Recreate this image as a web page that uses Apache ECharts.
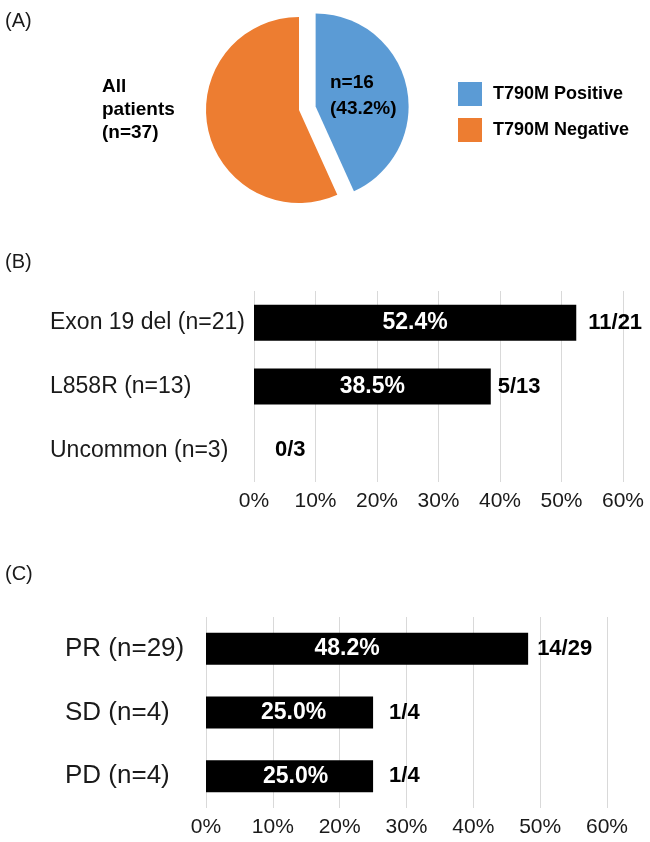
<!DOCTYPE html>
<html>
<head>
<meta charset="utf-8">
<script src="https://cdn.jsdelivr.net/npm/echarts@6/dist/echarts.min.js"></script>
<style>
  html, body { margin: 0; padding: 0; background: #ffffff; }
  #chart { width: 650px; height: 842px; }
</style>
</head>
<body>
<div id="chart"></div>
<script>
// ---------- Data ----------
const pieNames = ['T790M Positive', 'T790M Negative'];
const pieValues = [16, 21];
const pieTitle = 'All\npatients\n(n=37)';

const mutationCategories = ['Exon 19 del (n=21)', 'L858R (n=13)', 'Uncommon (n=3)'];
const mutationPercent = [52.4, 38.5, 0];
const mutationFractions = ['11/21', '5/13', '0/3'];

const responseCategories = ['PR (n=29)', 'SD (n=4)', 'PD (n=4)'];
const responsePercent = [48.2, 25.0, 25.0];
const responseFractions = ['14/29', '1/4', '1/4'];

// ---------- Layout / style ----------
const FONT = '"Liberation Sans", Arial, Helvetica, sans-serif';
const BLUE = '#5B9BD5';
const ORANGE = '#ED7D31';
const gapB = [12, 7, 21];
const gapC = [9, 16, 16];
const insideShiftB = [0, 0, 0];
const insideShiftC = [-20, 4, 6];

function valueAxis(gridIndex) {
  return {
    type: 'value', gridIndex, min: 0, max: 60, interval: 10,
    axisLine: { show: false }, axisTick: { show: false },
    splitLine: { show: true, lineStyle: { color: '#d9d9d9', width: 1 } },
    axisLabel: { formatter: '{value}%', color: '#1a1a1a', fontSize: 21, fontFamily: FONT, margin: 9 }
  };
}
function catAxis(gridIndex, cats, fontSize, margin) {
  return {
    type: 'category', gridIndex, data: cats, inverse: true,
    axisLine: { show: false }, axisTick: { show: false },
    axisLabel: { color: '#1a1a1a', fontSize, fontFamily: FONT, align: 'left', margin }
  };
}
function mainBar(idx, vals, shifts, width) {
  return {
    type: 'bar', xAxisIndex: idx, yAxisIndex: idx, barWidth: width,
    data: vals.map((v, i) => ({ value: v, label: { offset: [shifts[i], 0] } })),
    itemStyle: { color: '#000000' },
    label: {
      show: true, position: 'inside', color: '#ffffff', fontWeight: 'bold', fontSize: 23, fontFamily: FONT,
      formatter: p => (p.value > 0 ? p.value.toFixed(1) + '%' : '')
    },
    silent: true
  };
}
function fracBar(idx, vals, fracs, gaps, width) {
  return {
    type: 'bar', xAxisIndex: idx, yAxisIndex: idx, barWidth: width, barGap: '-100%',
    data: vals.map((v, i) => ({ value: v, label: { distance: gaps[i] } })),
    itemStyle: { color: 'rgba(0,0,0,0)' },
    label: {
      show: true, position: 'right', color: '#000000', fontWeight: 'bold', fontSize: 22, fontFamily: FONT,
      formatter: p => fracs[p.dataIndex]
    },
    silent: true, z: 3
  };
}

const pieTotal = pieValues.reduce((a, b) => a + b, 0);

const chart = echarts.init(document.getElementById('chart'), null, { renderer: 'canvas' });
chart.setOption({
  animation: false,
  backgroundColor: '#ffffff',
  title: [
    { text: '(A)', left: 5, top: 11, padding: 0, textStyle: { fontSize: 20, fontWeight: 'normal', color: '#1a1a1a', fontFamily: FONT } },
    { text: '(B)', left: 5, top: 252, padding: 0, textStyle: { fontSize: 20, fontWeight: 'normal', color: '#1a1a1a', fontFamily: FONT } },
    { text: '(C)', left: 5, top: 564, padding: 0, textStyle: { fontSize: 20, fontWeight: 'normal', color: '#1a1a1a', fontFamily: FONT } },
    { text: pieTitle, left: 102, top: 75, padding: 0, textStyle: { fontSize: 19, fontWeight: 'bold', color: '#000', lineHeight: 23, fontFamily: FONT } }
  ],
  legend: {
    orient: 'vertical', left: 458, top: 82, itemWidth: 24, itemHeight: 24, itemGap: 12,
    icon: 'rect', selectedMode: false, padding: 0,
    data: pieNames,
    textStyle: { fontSize: 18, fontWeight: 'bold', color: '#000', fontFamily: FONT, padding: [0, 0, 0, 6] }
  },
  grid: [
    { left: 254, right: 27, top: 291, height: 191, containLabel: false },
    { left: 206, right: 43, top: 617, height: 191, containLabel: false }
  ],
  xAxis: [valueAxis(0), valueAxis(1)],
  yAxis: [catAxis(0, mutationCategories, 23, 204), catAxis(1, responseCategories, 26, 141)],
  series: [
    {
      type: 'pie', center: [299, 110], radius: 93, startAngle: 90, clockwise: true,
      selectedMode: 'single', selectedOffset: 17, silent: true,
      data: pieNames.map((n, i) => ({
        name: n, value: pieValues[i], selected: i === 0,
        itemStyle: { color: i === 0 ? BLUE : ORANGE },
        label: i === 0 ? {
          show: true, position: 'inside', color: '#000', fontWeight: 'bold', fontSize: 19, lineHeight: 26, fontFamily: FONT,
          offset: [-9, -2],
          formatter: p => '{t|n=' + p.value + '}\n{t|(' + (p.value / pieTotal * 100).toFixed(1) + '%)}',
          rich: { t: { width: 68, align: 'left', fontSize: 19, fontWeight: 'bold', lineHeight: 26, color: '#000', fontFamily: FONT } }
        } : { show: false }
      })),
      labelLine: { show: false },
      emphasis: { disabled: true }
    },
    mainBar(0, mutationPercent, insideShiftB, 36),
    fracBar(0, mutationPercent, mutationFractions, gapB, 36),
    mainBar(1, responsePercent, insideShiftC, 32),
    fracBar(1, responsePercent, responseFractions, gapC, 32)
  ]
});
</script>
</body>
</html>
